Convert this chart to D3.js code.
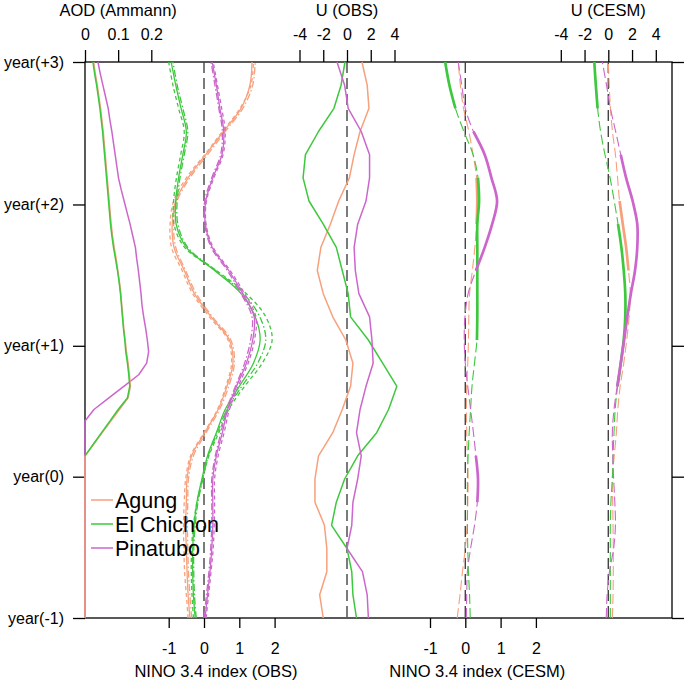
<!DOCTYPE html>
<html><head><meta charset="utf-8">
<script src="https://cdn.jsdelivr.net/npm/d3@7"></script>
<style>
body{margin:0;background:#fff}
svg{display:block}
text{font-family:"Liberation Sans",Arial,Helvetica,sans-serif;fill:#000}
</style>
</head><body>
<svg id="c" width="685" height="682"></svg>
<script>
// ---------------- DATA ----------------
const volcanoes = ["Agung", "El Chichon", "Pinatubo"];
const colors = ["#F7A07C", "#3DC83D", "#CC66CC"];

const yearLabels = ["year(-1)", "year(0)", "year(+1)", "year(+2)", "year(+3)"];
const yearTickMonths = [-12, 0.2, 11.5, 23.7, 36];

// monthly time axis (AOD) and 2-monthly time axis (others)
const monthsAll = d3.range(-12, 37, 1);
const months2 = d3.range(-12, 37, 2);

// AOD (Ammann), monthly, t = -12..36 (null = no record drawn)
const aodAgung = [0,0,0,0,0,0,0,0,0,0,0,0, 0,0,0,0.026,0.052,0.078,0.104,0.13,0.137,0.134,0.13,0.125,0.121,0.117,0.114,0.111,0.108,0.104,0.099,0.094,0.088,0.083,0.079,0.076,0.073,0.07,0.067,0.064,0.061,0.058,0.055,0.051,0.047,0.042,0.037,0.031,0.026];
const aodElChichon = [null,null,null,null,null,null,null,null,null,null,null,null, null,null,0,0.025,0.05,0.075,0.10,0.128,0.135,0.132,0.128,0.123,0.12,0.116,0.113,0.11,0.107,0.103,0.098,0.092,0.086,0.081,0.077,0.074,0.071,0.068,0.065,0.062,0.059,0.056,0.053,0.049,0.045,0.040,0.035,0.029,0.024];
const aodPinatubo = [0,0,0,0,0,0,0,0,0,0,0,0, 0,0,0,0,0,0,0.027,0.072,0.117,0.162,0.186,0.192,0.188,0.183,0.177,0.172,0.169,0.165,0.161,0.156,0.152,0.144,0.136,0.127,0.118,0.109,0.101,0.096,0.091,0.086,0.081,0.075,0.070,0.062,0.054,0.046,0.039];

// NINO 3.4 index (OBS), three datasets each (solid, dashed, dash-dot), t = -12..36 step 2
const ninoObsAgung1 = [-0.40,-0.45,-0.48,-0.50,-0.52,-0.50,-0.48,-0.35,0.02,0.40,0.65,0.82,0.72,0.20,-0.27,-0.56,-0.85,-0.90,-0.80,-0.45,0.05,0.55,1.05,1.30,1.36];
const ninoObsAgung2 = [-0.45,-0.50,-0.55,-0.57,-0.58,-0.56,-0.52,-0.38,0.00,0.38,0.62,0.78,0.68,0.15,-0.32,-0.62,-0.92,-0.96,-0.86,-0.50,0.02,0.52,1.02,1.33,1.40];
const ninoObsAgung3 = [-0.35,-0.40,-0.44,-0.46,-0.47,-0.46,-0.44,-0.30,0.06,0.44,0.70,0.86,0.76,0.24,-0.22,-0.52,-0.80,-0.86,-0.76,-0.40,0.10,0.60,1.10,1.38,1.45];
const ninoObsElChichon1 = [-0.25,-0.30,-0.32,-0.32,-0.28,-0.20,-0.06,0.10,0.35,0.60,1.00,1.40,1.59,1.45,1.05,0.30,-0.50,-0.79,-0.80,-0.72,-0.60,-0.50,-0.65,-0.80,-0.93];
const ninoObsElChichon2 = [-0.30,-0.34,-0.36,-0.35,-0.30,-0.20,-0.04,0.14,0.42,0.70,1.15,1.65,1.93,1.75,1.20,0.35,-0.55,-0.85,-0.86,-0.78,-0.66,-0.56,-0.72,-0.88,-1.00];
const ninoObsElChichon3 = [-0.22,-0.27,-0.29,-0.29,-0.25,-0.17,-0.03,0.12,0.38,0.65,1.07,1.52,1.75,1.58,1.12,0.33,-0.46,-0.74,-0.76,-0.68,-0.56,-0.46,-0.60,-0.76,-0.88];
const ninoObsPinatubo1 = [0.03,0.10,0.17,0.22,0.25,0.25,0.25,0.35,0.52,0.67,0.92,1.20,1.38,1.42,1.10,0.70,0.23,0.04,0.05,0.25,0.51,0.56,0.45,0.35,0.23];
const ninoObsPinatubo2 = [0.06,0.13,0.20,0.26,0.29,0.30,0.30,0.40,0.57,0.72,0.97,1.25,1.43,1.47,1.15,0.74,0.26,0.06,0.07,0.28,0.54,0.60,0.50,0.38,0.26];
const ninoObsPinatubo3 = [0.00,0.07,0.14,0.19,0.22,0.22,0.22,0.32,0.48,0.64,0.89,1.15,1.32,1.36,1.05,0.66,0.20,0.02,0.02,0.22,0.47,0.52,0.42,0.31,0.20];

// U (OBS), t = -12..36 step 2
const uObsAgung = [-2.0,-2.3,-1.7,-1.7,-1.9,-2.7,-2.7,-2.4,-1.2,-0.4,0.3,0.5,-0.1,-1.2,-2.0,-2.5,-2.2,-1.4,-0.7,0.2,0.6,1.1,1.85,1.7,1.26];
const uObsElChichon = [0.8,0.5,0.4,0.0,-1.3,-0.9,-0.2,0.9,2.5,3.5,4.2,3.0,1.8,0.3,0.1,-0.4,-0.9,-2.0,-3.2,-3.7,-3.5,-2.4,-1.1,-0.5,-0.17];
const uObsPinatubo = [1.8,1.7,1.3,0.0,0.4,0.5,0.9,1.2,0.8,1.1,1.6,2.2,2.1,1.9,1.0,0.7,0.6,0.9,1.6,1.9,1.9,1.2,0.1,-0.2,-0.84];

// NINO 3.4 index (CESM), t = -12..36 step 2, with significance flags (1 = significant)
const ninoCesmAgung = [-0.23,-0.15,-0.08,0.0,0.05,0.07,0.08,0.06,0.04,0.03,0.04,0.07,0.09,0.10,0.12,0.20,0.27,0.32,0.34,0.32,0.22,0.10,-0.05,-0.14,-0.20];
const ninoCesmElChichon = [0.14,0.12,0.09,0.07,0.06,0.06,0.06,0.08,0.11,0.15,0.19,0.26,0.33,0.34,0.34,0.34,0.34,0.34,0.39,0.36,0.22,-0.04,-0.28,-0.45,-0.57];
const ninoCesmPinatubo = [0.03,0.04,0.06,0.15,0.26,0.34,0.36,0.30,0.23,0.15,0.07,0.0,-0.03,-0.01,0.08,0.30,0.55,0.76,0.90,0.74,0.55,0.23,0.0,-0.10,-0.20];
const ninoCesmSigAgung = [0,0,0,0,0,0,0,0,0,0,0,0,0,0,0,0,0,1,1,1,0,0,0,0,0];
const ninoCesmSigElChichon = [0,0,0,0,0,0,0,0,0,0,0,0,1,1,1,1,1,1,1,1,0,0,1,1,1];
const ninoCesmSigPinatubo = [0,0,0,0,0,1,1,1,0,0,0,0,0,0,0,1,1,1,1,1,1,1,0,0,0];

// U (CESM), t = -12..36 step 2, with significance flags
const uCesmAgung = [0.34,0.40,0.42,0.42,0.40,0.37,0.34,0.50,0.68,0.80,1.00,1.30,1.55,1.75,1.85,1.70,1.50,1.22,0.95,0.78,0.60,0.35,0.18,0.08,0.0];
const uCesmElChichon = [0.17,0.17,0.17,0.17,0.17,0.22,0.34,0.40,0.48,0.58,0.78,1.05,1.30,1.43,1.43,1.30,1.10,0.82,0.50,0.15,-0.28,-0.65,-0.90,-1.05,-1.18];
const uCesmPinatubo = [-0.17,-0.10,0.10,0.45,0.60,0.55,0.45,0.38,0.34,0.48,0.75,1.05,1.33,1.60,1.90,2.25,2.44,2.44,2.05,1.50,1.05,0.62,0.18,-0.15,-0.50];
const uCesmSigAgung = [0,0,0,0,0,0,0,0,0,0,0,0,0,0,0,1,1,1,1,0,0,0,0,0,0];
const uCesmSigElChichon = [0,0,0,0,0,0,0,0,0,0,1,1,1,1,1,1,1,1,0,0,0,0,1,1,1];
const uCesmSigPinatubo = [0,0,0,0,0,0,0,0,0,0,1,1,1,1,1,1,1,1,1,1,1,0,0,0,0];

const aodTicks = [0, 0.1, 0.2];
const uTicks = [-4, -2, 0, 2, 4];
const ninoTicks = [-1, 0, 1, 2];

// ---------------- LAYOUT ----------------
const L = 85, R = 672, T = 62, B = 618;
const svg = d3.select("#c");

const y = d3.scaleLinear().domain([-12, 36]).range([B, T]);
const xAOD = d3.scaleLinear().domain([0, 0.2]).range([85, 151.3]);
const xNinoObs = d3.scaleLinear().domain([0, 1]).range([204, 239.3]);
const xUObs = d3.scaleLinear().domain([0, 4]).range([347, 394.5]);
const xNinoCesm = d3.scaleLinear().domain([0, 1]).range([465.3, 500.6]);
const xUCesm = d3.scaleLinear().domain([0, 4]).range([608.3, 655.8]);

// frame
svg.append("rect").attr("x", L).attr("y", T).attr("width", R - L).attr("height", B - T)
  .attr("fill", "none").attr("stroke", "#000").attr("stroke-width", 1.3);

// zero reference lines
[xNinoObs, xUObs, xNinoCesm, xUCesm].forEach(sc => {
  svg.append("line").attr("x1", sc(0)).attr("x2", sc(0)).attr("y1", T).attr("y2", B)
    .attr("stroke", "#444").attr("stroke-width", 1.4).attr("stroke-dasharray", "11,5");
});

// axes
function styleAxis(g) {
  g.select(".domain").remove();
  g.selectAll(".tick line").attr("stroke", "#000").attr("stroke-width", 1.3);
  g.selectAll(".tick text").attr("font-size", 16).attr("fill", "#000")
    .attr("font-family", '"Liberation Sans",Arial,Helvetica,sans-serif');
}
const fmt = d => String(d);
svg.append("g").attr("transform", `translate(0,${T})`)
  .call(d3.axisTop(xAOD).tickValues(aodTicks).tickFormat(fmt).tickSize(12).tickPadding(10)).call(styleAxis);
svg.append("g").attr("transform", `translate(0,${T})`)
  .call(d3.axisTop(xUObs).tickValues(uTicks).tickFormat(fmt).tickSize(12).tickPadding(10)).call(styleAxis);
svg.append("g").attr("transform", `translate(0,${T})`)
  .call(d3.axisTop(xUCesm).tickValues(uTicks).tickFormat(fmt).tickSize(12).tickPadding(10)).call(styleAxis);
svg.append("g").attr("transform", `translate(0,${B})`)
  .call(d3.axisBottom(xNinoObs).tickValues(ninoTicks).tickFormat(fmt).tickSize(10).tickPadding(15)).call(styleAxis);
svg.append("g").attr("transform", `translate(0,${B})`)
  .call(d3.axisBottom(xNinoCesm).tickValues(ninoTicks).tickFormat(fmt).tickSize(10).tickPadding(15)).call(styleAxis);
svg.append("g").attr("transform", `translate(${L},0)`)
  .call(d3.axisLeft(y).tickValues(yearTickMonths).tickFormat((d, i) => yearLabels[i]).tickSize(12).tickPadding(9)).call(styleAxis);
svg.append("g").attr("transform", `translate(${R},0)`)
  .call(d3.axisRight(y).tickValues(yearTickMonths).tickFormat("").tickSize(12)).call(styleAxis);

// axis titles
const titles = [
  {t: "AOD (Ammann)", x: xAOD(0.1), y: 16},
  {t: "U (OBS)", x: xUObs(0), y: 16},
  {t: "U (CESM)", x: xUCesm(0), y: 16},
  {t: "NINO 3.4 index (OBS)", x: xNinoObs(0.34), y: 677},
  {t: "NINO 3.4 index (CESM)", x: xNinoCesm(0.34), y: 677}
];
titles.forEach(d => svg.append("text").attr("x", d.x).attr("y", d.y)
  .attr("text-anchor", "middle").attr("font-size", 16.5).text(d.t));

// ---------------- LINES ----------------
function drawLine(vals, times, color, opts) {
  const data = vals.map((v, i) => ({v, t: times[i], s: opts.sig ? opts.sig[i] : 1}));
  const line = d3.line().defined(d => d.v !== null)
    .x(d => opts.sc(d.v)).y(d => y(d.t)).curve(opts.curve || d3.curveLinear);
  svg.append("path").datum(data).attr("d", line).attr("fill", "none")
    .attr("stroke", color).attr("stroke-width", opts.w || 1.5)
    .attr("stroke-dasharray", opts.dash || null).attr("stroke-linejoin", "round");
  if (opts.sig) {
    const l2 = d3.line().defined(d => d.s === 1 && d.v !== null)
      .x(d => opts.sc(d.v)).y(d => y(d.t)).curve(opts.curve || d3.curveLinear);
    svg.append("path").datum(data).attr("d", l2).attr("fill", "none")
      .attr("stroke", color).attr("stroke-width", 2.7).attr("stroke-linecap", "butt");
  }
}
const smooth = d3.curveCatmullRom.alpha(0.5);

// AOD (drawn Pinatubo, Agung, El Chichon)
[[aodPinatubo, 2], [aodAgung, 0], [aodElChichon, 1]].forEach(([a, i]) =>
  drawLine(a, monthsAll, colors[i], {sc: xAOD, w: 1.5}));

// NINO OBS
const ninoObs = [
  [ninoObsAgung1, ninoObsAgung2, ninoObsAgung3],
  [ninoObsElChichon1, ninoObsElChichon2, ninoObsElChichon3],
  [ninoObsPinatubo1, ninoObsPinatubo2, ninoObsPinatubo3]
];
const obsDash = [null, "4,3", "7,2.5,1.5,2.5"];
ninoObs.forEach((set, i) => set.forEach((a, j) =>
  drawLine(a, months2, colors[i], {sc: xNinoObs, w: 1.3, curve: smooth, dash: obsDash[j]})));

// U OBS
[uObsAgung, uObsElChichon, uObsPinatubo].forEach((a, i) =>
  drawLine(a, months2, colors[i], {sc: xUObs, w: 1.5}));

// NINO CESM
const ninoCesm = [ninoCesmAgung, ninoCesmElChichon, ninoCesmPinatubo];
const ninoCesmSig = [ninoCesmSigAgung, ninoCesmSigElChichon, ninoCesmSigPinatubo];
ninoCesm.forEach((a, i) =>
  drawLine(a, months2, colors[i], {sc: xNinoCesm, w: 1.1, curve: smooth, dash: "10,4", sig: ninoCesmSig[i]}));

// U CESM
const uCesm = [uCesmAgung, uCesmElChichon, uCesmPinatubo];
const uCesmSig = [uCesmSigAgung, uCesmSigElChichon, uCesmSigPinatubo];
uCesm.forEach((a, i) =>
  drawLine(a, months2, colors[i], {sc: xUCesm, w: 1.1, curve: smooth, dash: "10,4", sig: uCesmSig[i]}));

// ---------------- LEGEND ----------------
const leg = svg.append("g");
volcanoes.forEach((name, i) => {
  const yy = 500 + i * 24;
  leg.append("line").attr("x1", 91).attr("x2", 113).attr("y1", yy).attr("y2", yy)
    .attr("stroke", colors[i]).attr("stroke-width", 1.5);
  leg.append("text").attr("x", 115).attr("y", yy).attr("dy", "0.36em")
    .attr("font-size", 21.5).text(name);
});
</script>
</body></html>
